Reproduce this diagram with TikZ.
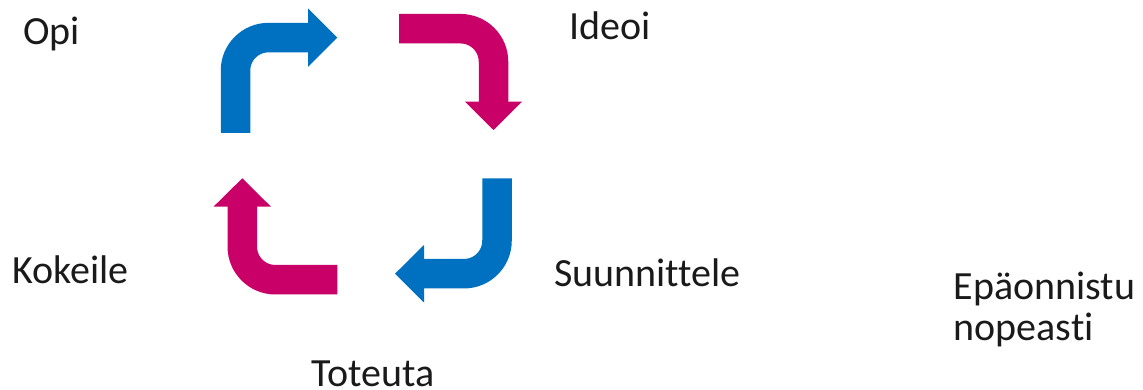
\documentclass[tikz,border=0pt]{standalone}
\usepackage{fontspec}
\setmainfont{Carlito}[Ligatures=NoCommon]
\usetikzlibrary{positioning}
\definecolor{cycleblue}{RGB}{0,112,192}
\definecolor{cyclepink}{RGB}{200,0,104}
\definecolor{phasegray}{RGB}{26,26,26}

\begin{document}
\begin{tikzpicture}[x=1pt, y=1pt,
    shaft/.style={line width=29.5pt, rounded corners=33pt},
    phase/.style={anchor=base west, inner sep=0pt,
                  font=\fontsize{40}{48}\selectfont, text=phasegray}]
    \useasboundingbox (0,0) rectangle (1143,-390);
    % the four bent arrows of the cycle
    \draw[shaft, cycleblue] (235.5,-133) |- (309,-37.6);
    \fill[cycleblue] (308,-8.4) -- (337.3,-37.6) -- (308,-66.8) -- cycle;
    \draw[shaft, cyclepink] (399,-28.7) -| (493.5,-102.7);
    \fill[cyclepink] (465,-101.7) -- (493.5,-130) -- (522,-101.7) -- cycle;
    \draw[shaft, cycleblue] (497,-178.3) |- (423,-273.7);
    \fill[cycleblue] (424,-245) -- (395,-273.7) -- (424,-302.5) -- cycle;
    \draw[shaft, cyclepink] (337.3,-279.7) -| (242.3,-205.7);
    \fill[cyclepink] (213.5,-206.7) -- (242.3,-178.3) -- (271,-206.7) -- cycle;
    % phase labels
    \node[phase] (opi) at (23,-44.3) {Opi};
    \node[phase] (ideoi) at (569.5,-40) {Ideoi};
    \node[phase] (kokeile) at (12,-283.3) {Kokeile};
    \node[phase] (suunnittele) at (554,-286.7) {Suunnittele};
    \node[phase] (toteuta) at (311,-386.7) {Toteuta};
    \node[phase] (epa) at (953.5,-299.3) {Epäonnistu};
    \node[phase] (nopeasti) at (953.5,-340.7) {nopeasti};
  \end{tikzpicture}
\end{document}
